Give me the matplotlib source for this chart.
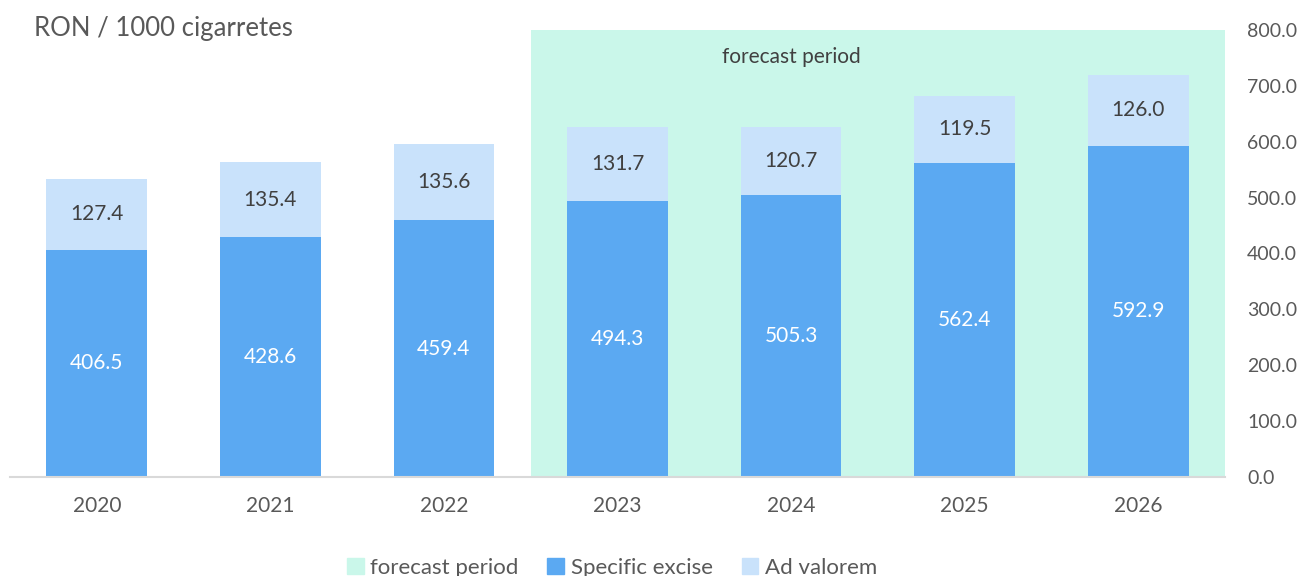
import matplotlib
matplotlib.use("Agg")
import matplotlib.pyplot as plt
from matplotlib.patches import Patch

years = ["2020", "2021", "2022", "2023", "2024", "2025", "2026"]
specific_excise = [406.5, 428.6, 459.4, 494.3, 505.3, 562.4, 592.9]
ad_valorem = [127.4, 135.4, 135.6, 131.7, 120.7, 119.5, 126.0]
forecast = [0, 0, 0, 800, 800, 800, 800]
yticks = [0, 100, 200, 300, 400, 500, 600, 700, 800]

plt.rcParams['font.family'] = ['Lato', 'DejaVu Sans']
c_spec = "#5BA9F2"
c_adv = "#C9E2FB"
c_fc = "#CAF7EA"
tc = "#595959"

fig = plt.figure(figsize=(13.05, 5.76), dpi=100)
ax = fig.add_axes([0.0077, 0.172, 0.931, 0.776])
x = list(range(len(years)))

ax.bar(x, forecast, width=1.0, color=c_fc, zorder=1)
b1 = ax.bar(x, specific_excise, width=0.58, color=c_spec, zorder=2)
b2 = ax.bar(x, ad_valorem, width=0.58, bottom=specific_excise, color=c_adv, zorder=2)

for i in x:
    ax.text(i, specific_excise[i] / 2, f"{specific_excise[i]:.1f}", ha="center", va="center",
            color="white", fontsize=15)
    ax.text(i, specific_excise[i] + ad_valorem[i] / 2, f"{ad_valorem[i]:.1f}", ha="center",
            va="center", color="#404040", fontsize=15)

ax.text(4, 752, "forecast period", ha="center", va="center", color="#404040", fontsize=15)

ax.set_xlim(-0.5, 6.5)
ax.set_ylim(0, 800)
ax.set_xticks(x)
ax.set_xticklabels(years, fontsize=15)
ax.set_yticks(yticks)
ax.set_yticklabels([f"{v:.1f}" for v in yticks], fontsize=14)
ax.yaxis.tick_right()
ax.tick_params(axis="both", length=0, colors=tc)
ax.tick_params(axis="x", pad=14)
ax.tick_params(axis="y", pad=16)
for s in ["top", "left", "right"]:
    ax.spines[s].set_visible(False)
ax.spines["bottom"].set_color("#D9D9D9")
ax.spines["bottom"].set_linewidth(1.5)
ax.spines["bottom"].set_zorder(3)

fig.text(0.026, 0.95, "RON / 1000 cigarretes", fontsize=18.5, color=tc, ha="left", va="center")

handles = [Patch(color=c_fc, label="forecast period"),
           Patch(color=c_spec, label="Specific excise"),
           Patch(color=c_adv, label="Ad valorem")]
leg = fig.legend(handles=handles, loc="lower center", bbox_to_anchor=(0.469, -0.038), ncol=3,
                 frameon=False, fontsize=16, handlelength=0.75, handleheight=0.75,
                 handletextpad=0.3, columnspacing=1.3)
for t in leg.get_texts():
    t.set_color(tc)

fig.savefig("out.png", dpi=100)
